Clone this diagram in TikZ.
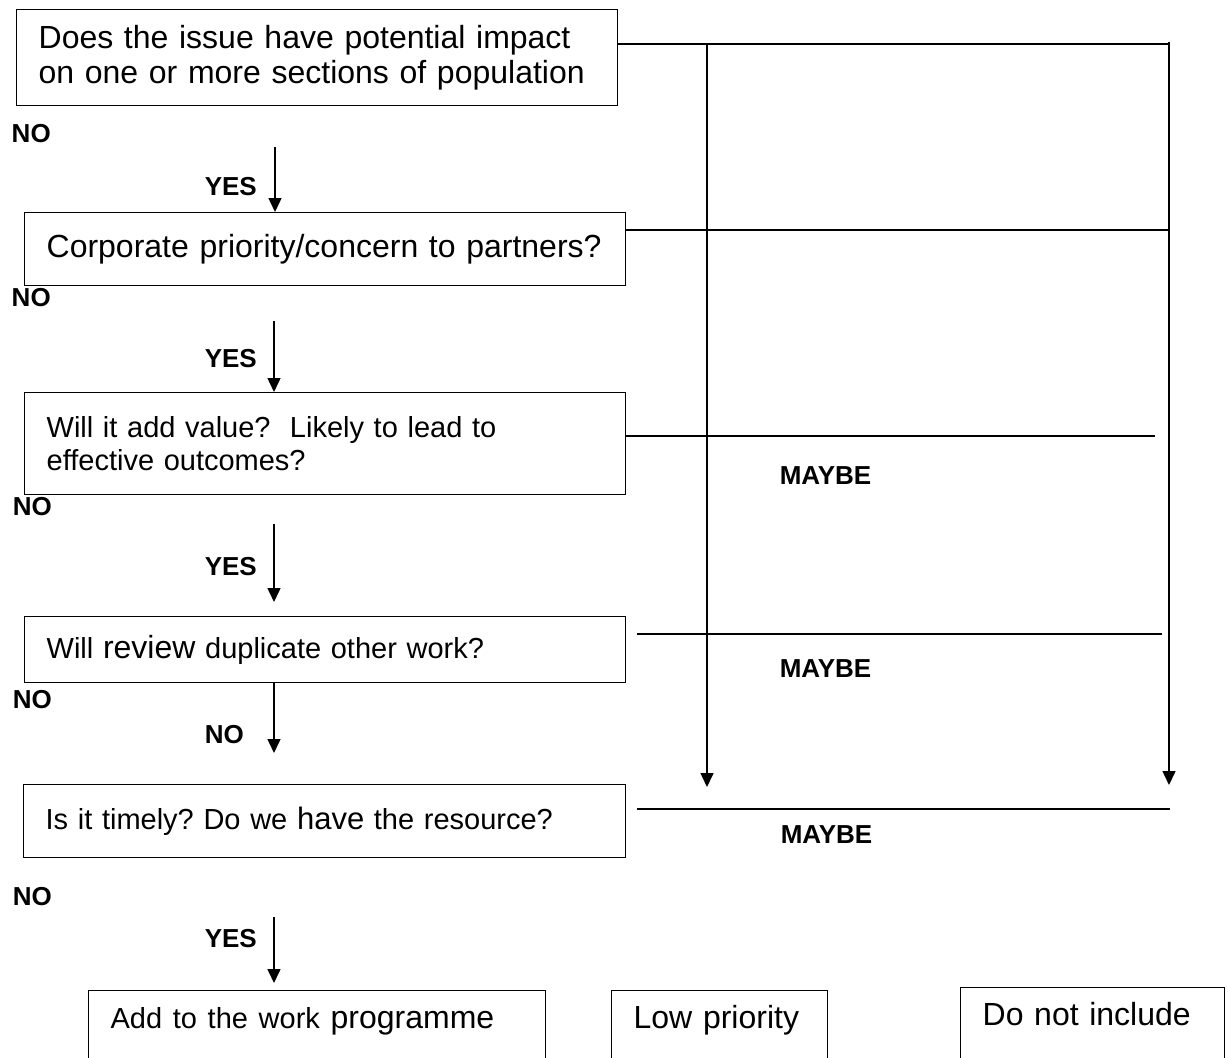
\documentclass[tikz,border=0pt]{standalone}
\usepackage{fontspec}
\setmainfont{Liberation Sans}
\usetikzlibrary{arrows.meta}
\frenchspacing

\begin{document}
\begin{tikzpicture}[x=1pt, y=-1pt, line width=1.5pt,
  qbox/.style={draw, line width=1.3pt, anchor=north west, inner xsep=22pt, inner ysep=0pt, align=left, text width=#1},
  endbox/.style={qbox=#1, text height=23pt, text depth=50pt, inner ysep=15pt, font=\fontsize{32}{35}\selectfont},
  big/.style={font=\fontsize{32}{35}\selectfont},
  small/.style={font=\fontsize{29}{33}\selectfont},
  lab/.style={anchor=base west, inner sep=0pt, font=\fontsize{26}{30}\selectfont\bfseries},
  arr/.style={-{Triangle[length=14pt, width=13pt]}}]
\useasboundingbox (0,0) rectangle (1228,1057);

% question boxes
\node[qbox=557pt, big, minimum height=96pt] (q1) at (16,9) {Does the issue have potential impact\\on one or more sections of population};
\node[qbox=557pt, big, minimum height=73pt] (q2) at (24,212) {Corporate priority/concern to partners?};
\node[qbox=557pt, small, minimum height=102pt] (q3) at (24,392) {Will it add value?\ \ Likely to lead to\\effective outcomes?};
\node[qbox=557pt, small, minimum height=66pt] (q4) at (24,616) {Will {\fontsize{32}{33}\selectfont review} duplicate other work?};
\node[qbox=558pt, small, minimum height=73pt] (q5) at (23,784) {Is it timely? Do we {\fontsize{31}{33}\selectfont have} the resource?};

% outcome boxes
\node[endbox=413pt] (add) at (88,990) {\fontsize{29}{33}\selectfont Add to the work {\fontsize{32}{33}\selectfont programme}};
\node[endbox=172pt] (low) at (611,990) {Low priority};
\node[endbox=220pt] (excl) at (960,987) {Do not include};

% labels
\node[lab] (no1) at (11,142) {NO};
\node[lab] (no2) at (11,306) {NO};
\node[lab] (no3) at (12,515) {NO};
\node[lab] (no4) at (12,708) {NO};
\node[lab] (no5) at (12,905) {NO};
\node[lab] (yes1) at (204,195) {YES};
\node[lab] (yes2) at (204,367) {YES};
\node[lab] (yes3) at (204,575) {YES};
\node[lab] (no6) at (204,743) {NO};
\node[lab] (yes5) at (204,947) {YES};
\node[lab] (maybe1) at (779,484) {MAYBE};
\node[lab] (maybe2) at (779,677) {MAYBE};
\node[lab] (maybe3) at (780,843) {MAYBE};

% free ends
\coordinate (a1) at (275,147);
\coordinate (a2) at (274,321);
\coordinate (a3) at (274,524);
\coordinate (b3) at (274,602);
\coordinate (b4) at (274,753);
\coordinate (a5) at (274,917);
\coordinate (b5) at (274,983);
\coordinate (l0) at (707,44);
\coordinate (l1) at (707,787);
\coordinate (r0) at (1169,42);
\coordinate (r1) at (1169,44);
\coordinate (r2) at (1169,230);
\coordinate (r5) at (1169,785);
\coordinate (m3) at (1155,436);
\coordinate (m4a) at (637,634);
\coordinate (m4b) at (1162,634);
\coordinate (m5a) at (637,809);
\coordinate (m5b) at (1170,809);

% down the left
\draw[arr] (a1) -- (a1 |- q2.north);
\draw[arr] (a2) -- (a2 |- q3.north);
\draw[arr] (a3) -- (b3);
\draw[arr] (b4 |- q4.south) -- (b4);
\draw[arr] (a5) -- (b5);

% lines to the right
\draw (r1 -| q1.east) -- (r1);
\draw (r2 -| q2.east) -- (r2);
\draw (m3 -| q3.east) -- (m3);
\draw (m4a) -- (m4b);
\draw (m5a) -- (m5b);
\draw[arr] (l0) -- (l1);
\draw[arr] (r0) -- (r5);
\end{tikzpicture}
\end{document}
